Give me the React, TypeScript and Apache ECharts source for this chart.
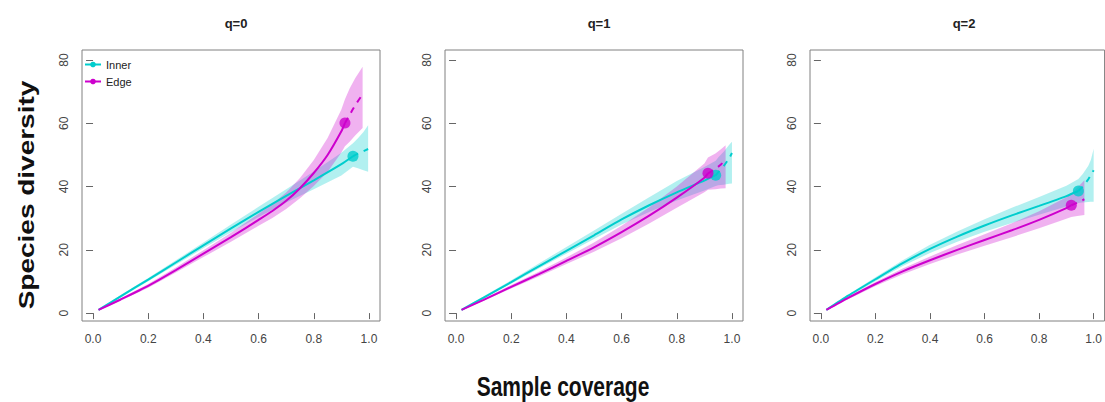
import React, { useEffect, useRef } from "react";
import * as echarts from "echarts";

const FONT = "Liberation Sans, Arial, sans-serif";
const panelTitles = ["q=0", "q=1", "q=2"];
const curveNames = ["Inner", "Edge"];
const curveColors = ["#00CDCD", "#CD00CD"];
const ribbonColors = ["rgba(0,205,205,0.3)", "rgba(205,0,205,0.3)"];
const xTicks = [0, 0.2, 0.4, 0.6, 0.8, 1.0];
const yTicks = [0, 20, 40, 60, 80];

// ---- q=0 ----
const q0InnerX = [0.02, 0.1, 0.2, 0.3, 0.4, 0.5, 0.6, 0.7, 0.8, 0.9, 0.942];
const q0InnerY = [1, 5.3, 10.6, 16, 21.4, 26.8, 32, 37.1, 42, 47.1, 49.6];
const q0InnerLo = [0.8, 4.9, 10.1, 15.3, 20.5, 25.6, 30.4, 35.0, 39.2, 43.5, 46.3];
const q0InnerHi = [1.2, 5.7, 11.1, 16.7, 22.3, 28.0, 33.6, 39.2, 44.8, 50.7, 53.7];
const q0InnerExtX = [0.96, 0.98, 0.997];
const q0InnerExtY = [50.4, 51.2, 51.9];
const q0InnerExtLo = [45.8, 45.2, 44.7];
const q0InnerExtHi = [55.3, 57.3, 59.4];

const q0EdgeX = [0.02, 0.1, 0.2, 0.3, 0.4, 0.5, 0.6, 0.65, 0.7, 0.75, 0.8, 0.85, 0.9, 0.913];
const q0EdgeY = [1, 4.3, 8.6, 13.6, 18.8, 24, 29.5, 32.3, 35.5, 39.5, 44.3, 50, 57.5, 60.1];
const q0EdgeLo = [0.8, 3.9, 8, 12.8, 17.7, 22.6, 27.6, 30.1, 32.9, 36.3, 40.2, 44.6, 50.8, 52.8];
const q0EdgeHi = [1.2, 4.7, 9.2, 14.4, 19.9, 25.4, 31.4, 34.5, 38.1, 42.7, 48.4, 55.4, 64.4, 67.6];
const q0EdgeExtX = [0.93, 0.95, 0.977];
const q0EdgeExtY = [62.7, 65.7, 69.2];
const q0EdgeExtLo = [54.2, 56.2, 58.5];
const q0EdgeExtHi = [71, 74.3, 77.9];

// ---- q=1 ----
const q1InnerX = [0.02, 0.1, 0.2, 0.3, 0.4, 0.5, 0.6, 0.7, 0.8, 0.9, 0.941];
const q1InnerY = [1, 4.9, 9.8, 14.8, 19.7, 24.6, 29.6, 34.1, 38.2, 41.9, 43.6];
const q1InnerLo = [0.8, 4.6, 9.3, 14.1, 18.8, 23.4, 28, 32, 35.6, 38.8, 40.2];
const q1InnerHi = [1.2, 5.3, 10.4, 15.7, 20.9, 26.1, 31.4, 36.6, 41.8, 46.2, 48.2];
const q1InnerExtX = [0.95, 0.97, 0.99, 1.0];
const q1InnerExtY = [44.5, 46.5, 49, 50.6];
const q1InnerExtLo = [40.4, 40.6, 40.9, 41];
const q1InnerExtHi = [49.2, 51, 53.2, 54.2];

const q1EdgeX = [0.02, 0.1, 0.2, 0.3, 0.4, 0.5, 0.6, 0.7, 0.8, 0.9, 0.913];
const q1EdgeY = [1, 4.2, 8.3, 12.3, 16.5, 20.8, 25.6, 30.8, 36.5, 42.8, 44.2];
const q1EdgeLo = [0.8, 3.9, 7.8, 11.6, 15.5, 19.4, 23.7, 28.3, 33.3, 38.2, 39];
const q1EdgeHi = [1.2, 4.5, 8.9, 13.1, 17.6, 22.3, 27.6, 33.5, 40, 47.3, 49.2];
const q1EdgeExtX = [0.94, 0.96, 0.977];
const q1EdgeExtY = [45.6, 47, 48.4];
const q1EdgeExtLo = [39.2, 39.4, 39.5];
const q1EdgeExtHi = [50.5, 51.8, 53.1];

// ---- q=2 ----
const q2InnerX = [0.02, 0.1, 0.2, 0.3, 0.4, 0.5, 0.6, 0.7, 0.8, 0.9, 0.944];
const q2InnerY = [1, 5.5, 10.7, 15.8, 20.3, 24.2, 27.7, 30.9, 33.9, 37, 38.6];
const q2InnerLo = [0.8, 5.1, 10.1, 14.9, 19, 22.6, 25.7, 28.5, 31.1, 33.7, 34.8];
const q2InnerHi = [1.2, 5.9, 11.3, 16.7, 21.6, 25.8, 29.7, 33.3, 36.7, 40.3, 42.4];
const q2InnerExtX = [0.96, 0.98, 0.99, 1.0];
const q2InnerExtY = [40, 42.3, 43.6, 45.2];
const q2InnerExtLo = [35, 35.1, 35.2, 35.2];
const q2InnerExtHi = [44, 46.5, 48.5, 52];

const q2EdgeX = [0.02, 0.1, 0.2, 0.3, 0.4, 0.5, 0.6, 0.7, 0.8, 0.9, 0.918];
const q2EdgeY = [1, 4.8, 9.2, 13.2, 16.7, 20, 23.1, 26.2, 29.5, 33.2, 34.1];
const q2EdgeLo = [0.8, 4.4, 8.6, 12.3, 15.5, 18.5, 21.3, 24, 26.8, 29.8, 30.4];
const q2EdgeHi = [1.2, 5.2, 9.8, 14.1, 17.9, 21.5, 24.9, 28.4, 32.2, 36.6, 37.8];
const q2EdgeExtX = [0.94, 0.966];
const q2EdgeExtY = [34.9, 36];
const q2EdgeExtLo = [30.7, 31];
const q2EdgeExtHi = [39.6, 42];

type Curve = {
  x: number[]; y: number[]; lo: number[]; hi: number[];
  ex: number[]; ey: number[]; elo: number[]; ehi: number[];
};

const panelsData: Curve[][] = [
  [
    { x: q0InnerX, y: q0InnerY, lo: q0InnerLo, hi: q0InnerHi, ex: q0InnerExtX, ey: q0InnerExtY, elo: q0InnerExtLo, ehi: q0InnerExtHi },
    { x: q0EdgeX, y: q0EdgeY, lo: q0EdgeLo, hi: q0EdgeHi, ex: q0EdgeExtX, ey: q0EdgeExtY, elo: q0EdgeExtLo, ehi: q0EdgeExtHi },
  ],
  [
    { x: q1InnerX, y: q1InnerY, lo: q1InnerLo, hi: q1InnerHi, ex: q1InnerExtX, ey: q1InnerExtY, elo: q1InnerExtLo, ehi: q1InnerExtHi },
    { x: q1EdgeX, y: q1EdgeY, lo: q1EdgeLo, hi: q1EdgeHi, ex: q1EdgeExtX, ey: q1EdgeExtY, elo: q1EdgeExtLo, ehi: q1EdgeExtHi },
  ],
  [
    { x: q2InnerX, y: q2InnerY, lo: q2InnerLo, hi: q2InnerHi, ex: q2InnerExtX, ey: q2InnerExtY, elo: q2InnerExtLo, ehi: q2InnerExtHi },
    { x: q2EdgeX, y: q2EdgeY, lo: q2EdgeLo, hi: q2EdgeHi, ex: q2EdgeExtX, ey: q2EdgeExtY, elo: q2EdgeExtLo, ehi: q2EdgeExtHi },
  ],
];

const gridLefts = [82, 445, 810];
const GRID_TOP = 50;
const GRID_W = 298;
const GRID_H = 271;

function buildOption() {
  const grids: any[] = [];
  const xAxes: any[] = [];
  const yAxes: any[] = [];
  const titles: any[] = [];
  const series: any[] = [];

  panelTitles.forEach((t, p) => {
    grids.push({
      left: gridLefts[p], top: GRID_TOP, width: GRID_W, height: GRID_H,
      show: true, borderColor: "#808080", borderWidth: 1, backgroundColor: "transparent",
    });
    xAxes.push({
      type: "value", gridIndex: p, min: -0.04, max: 1.04,
      axisLine: { show: false },
      splitLine: { show: false },
      axisTick: { show: true, customValues: xTicks, length: 6, lineStyle: { color: "#666" } },
      axisLabel: {
        customValues: xTicks, formatter: (v: number) => v.toFixed(1),
        fontSize: 12, color: "#444", fontFamily: FONT, margin: 12,
      },
    });
    yAxes.push({
      type: "value", gridIndex: p, min: -2.5, max: 83.2,
      axisLine: { show: false },
      splitLine: { show: false },
      axisTick: { show: true, customValues: yTicks, length: 7, lineStyle: { color: "#666" } },
      axisLabel: {
        customValues: yTicks, rotate: 90, fontSize: 12, color: "#444", fontFamily: FONT, margin: 12,
      },
    });
    titles.push({
      text: t, left: gridLefts[p] + GRID_W / 2, top: 12, textAlign: "center",
      textStyle: { fontSize: 13, fontWeight: "bold", color: "#222", fontFamily: FONT },
    });

    panelsData[p].forEach((c, ci) => {
      const rx = c.x.concat(c.ex);
      const rlo = c.lo.concat(c.elo);
      const rhi = c.hi.concat(c.ehi);
      series.push({
        type: "custom", xAxisIndex: p, yAxisIndex: p, silent: true, z: 1,
        data: rx.map((x, i) => [x, rlo[i], rhi[i]]),
        encode: { x: 0, y: [1, 2] },
        renderItem: (params: any, api: any) => {
          if (params.dataIndex !== 0) return null;
          const pts: number[][] = [];
          for (let i = 0; i < rx.length; i++) pts.push(api.coord([rx[i], rhi[i]]));
          for (let i = rx.length - 1; i >= 0; i--) pts.push(api.coord([rx[i], rlo[i]]));
          return {
            type: "polygon", shape: { points: pts },
            style: { fill: ribbonColors[ci], stroke: "none" },
          };
        },
      });
    });
    panelsData[p].forEach((c, ci) => {
      const last = c.x.length - 1;
      series.push({
        name: curveNames[ci], type: "line", xAxisIndex: p, yAxisIndex: p,
        symbol: "circle", showSymbol: false, symbolSize: 6, z: 3,
        smooth: 0.2,
        itemStyle: { color: curveColors[ci] },
        lineStyle: { color: curveColors[ci], width: 2 },
        data: c.x.map((x, i) => [x, c.y[i]]),
      });
      series.push({
        type: "line", xAxisIndex: p, yAxisIndex: p, symbol: "none", z: 3,
        smooth: 0.2,
        lineStyle: { color: curveColors[ci], width: 2, type: [6, 6] },
        data: [[c.x[last], c.y[last]]].concat(c.ex.map((x, i) => [x, c.ey[i]])),
      });
      series.push({
        type: "scatter", xAxisIndex: p, yAxisIndex: p, symbol: "circle", symbolSize: 11, z: 4,
        itemStyle: { color: curveColors[ci] },
        data: [[c.x[last], c.y[last]]],
      });
    });
  });

  return {
    animation: false,
    backgroundColor: "#ffffff",
    title: titles,
    grid: grids,
    xAxis: xAxes,
    yAxis: yAxes,
    legend: {
      data: curveNames, orient: "vertical", left: 84, top: 59, padding: 0,
      itemWidth: 16, itemHeight: 7, itemGap: 6,
      textStyle: { fontSize: 11, color: "#222", fontFamily: FONT },
    },
    graphic: [
      {
        type: "text", x: 26, y: 195, rotation: Math.PI / 2, scaleX: 1, scaleY: 0.8,
        style: {
          text: "Species diversity", font: `bold 28px ${FONT}`, fill: "#111",
          textAlign: "center", textVerticalAlign: "middle",
        },
      },
      {
        type: "text", x: 563, y: 386, scaleX: 0.75, scaleY: 1,
        style: {
          text: "Sample coverage", font: `bold 28px ${FONT}`, fill: "#111",
          textAlign: "center", textVerticalAlign: "middle",
        },
      },
    ],
    series,
  };
}

export default function App() {
  const ref = useRef<HTMLDivElement>(null);
  useEffect(() => {
    document.body.style.margin = "0";
    const chart = echarts.init(ref.current!, undefined, { renderer: "svg" });
    chart.setOption(buildOption() as any);
    return () => chart.dispose();
  }, []);
  return <div ref={ref} style={{ width: 1105, height: 402 }} />;
}
